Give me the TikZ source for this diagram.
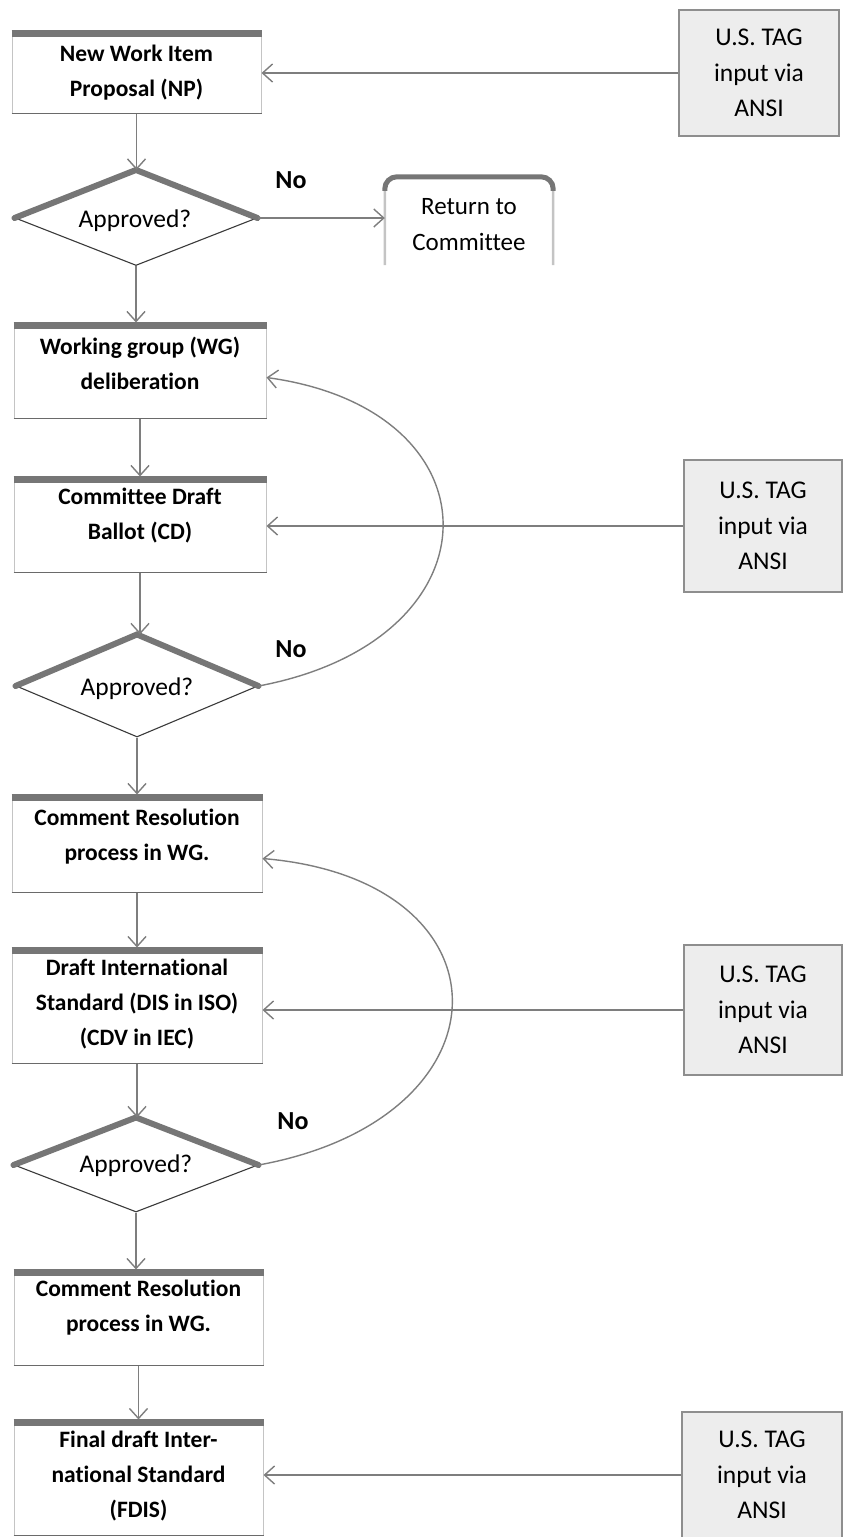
\documentclass[tikz,border=0pt]{standalone}
\usepackage{fontspec}
\setmainfont{Carlito}[Ligatures=NoCommon]
\usetikzlibrary{arrows.meta,shapes.geometric}
\definecolor{barc}{HTML}{767676}
\definecolor{sidec}{HTML}{C4C4C4}
\definecolor{botc}{HTML}{6A6A6A}
\definecolor{linec}{HTML}{7E7E7E}
\definecolor{dthin}{HTML}{3A3A3A}
\definecolor{tagfill}{HTML}{EDEDED}
\definecolor{tagline}{HTML}{8E8E8E}
\begin{document}
\begin{tikzpicture}[x=1pt,y=-1pt,
  boxnode/.style={draw=sidec, line width=1pt, fill=white, inner sep=0pt},
  btext/.style={align=center, font=\fontsize{23.5}{35}\selectfont\bfseries, inner sep=0pt},
  rtext/.style={align=center, font=\fontsize{25.5}{36}\selectfont, inner sep=0pt},
  barline/.style={draw=barc, line width=7pt},
  botline/.style={draw=botc, line width=1.6pt},
  decision/.style={diamond, draw=dthin, line width=1.1pt, inner sep=0pt, fill=white},
  thickedge/.style={draw=barc, line width=6pt, line join=miter, line cap=round},
  tagbox/.style={draw=tagline, line width=2.5pt, fill=tagfill, inner sep=0pt, align=center,
     font=\fontsize{25.5}{35.5}\selectfont},
  conn/.style={draw=linec, line width=1.4pt, -{Straight Barb[length=10pt,width=18pt]}},
  nolabel/.style={font=\fontsize{26}{30}\selectfont\bfseries, inner sep=0pt}
]
\useasboundingbox (0,0) rectangle (843,1537);

% main boxes
\node[boxnode, minimum width=249, minimum height=82] (np) at (136.5,72) {};
\node[boxnode, minimum width=252, minimum height=95] (wg) at (140,370.5) {};
\node[boxnode, minimum width=252, minimum height=95] (cd) at (140,524.5) {};
\node[boxnode, minimum width=250, minimum height=97] (cra) at (137,843.5) {};
\node[boxnode, minimum width=250, minimum height=115] (dis) at (137,1005.5) {};
\node[boxnode, minimum width=249, minimum height=95] (crb) at (138.5,1317.5) {};
\node[boxnode, minimum width=249, minimum height=115] (fd) at (138.5,1477.5) {};

\foreach \n in {np,wg,cd,cra,dis,crb,fd}{
  \draw[botline] (\n.south west) -- (\n.south east);
  \draw[barline] ([yshift=-3pt]\n.north west) -- ([yshift=-3pt]\n.north east);
}

\node[btext] (npt) at (136.5,73) {New Work Item\\Proposal (NP)};
\node[btext] (wgt) at (140,363) {Working group (WG)\\deliberation};
\node[btext] (cdt) at (140,516) {Committee Draft\\Ballot (CD)};
\node[btext] (crat) at (137,837) {Comment Resolution\\process in WG.};
\node[btext] (dist) at (137,1004) {Draft International\\Standard (DIS in ISO)\\(CDV in IEC)};
\node[btext] (crbt) at (138.5,1308) {Comment Resolution\\process in WG.};
\node[btext] (fdt) at (138.5,1476) {Final draft Inter-\\national Standard\\(FDIS)};

% decisions
\node[decision, minimum width=242, minimum height=95] (da) at (136,218) {};
\node[decision, minimum width=242, minimum height=102] (db) at (137,686) {};
\node[decision, minimum width=244, minimum height=94] (dc) at (136,1165) {};
\foreach \n in {da,db,dc}{
  \draw[thickedge] (\n.west) -- (\n.north) -- (\n.east);
}
\node[rtext] (dat) at (135,221) {Approved?};
\node[rtext] (dbt) at (137,689) {Approved?};
\node[rtext] (dct) at (136,1166) {Approved?};

\node[nolabel] (noa) at (291,180) {No};
\node[nolabel] (nob) at (291,649) {No};
\node[nolabel] (noc) at (293,1121) {No};

% return to committee
\node[minimum width=168, minimum height=88, inner sep=0pt] (ret) at (469,221) {};
\draw[draw=sidec, line width=2.5pt, rounded corners=12pt]
  (ret.south west) -- (ret.north west) -- (ret.north east) -- (ret.south east);
\draw[draw=barc, line width=5pt, rounded corners=12pt]
  ([yshift=-14pt]ret.north west) -- (ret.north west) -- (ret.north east) -- ([yshift=-14pt]ret.north east);
\node[rtext, font=\fontsize{25}{36}\selectfont] (rett) at (469,225) {Return to\\Committee};

% TAG boxes
\node[tagbox, minimum width=160, minimum height=126] (taga) at (759,73) {U.S. TAG\\input via\\ANSI};
\node[tagbox, minimum width=158, minimum height=132] (tagb) at (763,526) {U.S. TAG\\input via\\ANSI};
\node[tagbox, minimum width=158, minimum height=130] (tagc) at (763,1010) {U.S. TAG\\input via\\ANSI};
\node[tagbox, minimum width=160, minimum height=126] (tagd) at (762,1475) {U.S. TAG\\input via\\ANSI};

% vertical connectors
\draw[conn] (np.south) -- (np.south |- da.north);
\draw[conn] (da.south) -- (da.south |- wg.north);
\draw[conn] (wg.south) -- (wg.south |- cd.north);
\draw[conn] (cd.south) -- (cd.south |- db.north);
\draw[conn] (db.south) -- (db.south |- cra.north);
\draw[conn] (cra.south) -- (cra.south |- dis.north);
\draw[conn] (dis.south) -- (dis.south |- dc.north);
\draw[conn] (dc.south) -- (dc.south |- crb.north);
\draw[conn] (crb.south) -- (crb.south |- fd.north);

% horizontal connectors
\draw[conn] (da.east) -- (da.east -| ret.west);
\draw[conn] (taga.west) -- (taga.west -| np.east);
\draw[conn] (tagb.west) -- (tagb.west -| cd.east);
\draw[conn] (tagc.west) -- (tagc.west -| dis.east);
\draw[conn] (tagd.west) -- (tagd.west -| fd.east);

% loops back
\coordinate (wgin) at ([yshift=-7pt]wg.east);
\coordinate (crain) at ([yshift=-15pt]cra.east);
\draw[conn] (db.east) .. controls (503,640) and (503,410) .. (wgin);
\draw[conn] (dc.east) .. controls (516,1118) and (516,880) .. (crain);
\end{tikzpicture}
\end{document}
